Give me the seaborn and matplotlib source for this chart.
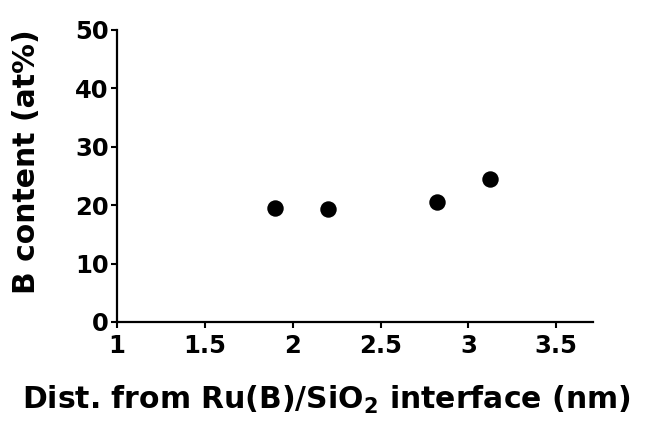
import matplotlib
matplotlib.use("Agg")
import matplotlib.pyplot as plt
import seaborn as sns
import pandas as pd

# Data
dist_nm = [1.90, 2.20, 2.82, 3.12]
b_content = [19.5, 19.3, 20.5, 24.5]
x_ticks = [1, 1.5, 2, 2.5, 3, 3.5]
x_tick_labels = ["1", "1.5", "2", "2.5", "3", "3.5"]
y_ticks = [0, 10, 20, 30, 40, 50]
y_tick_labels = ["0", "10", "20", "30", "40", "50"]

sns.set_theme(style="ticks")
plt.rcParams['font.family'] = ['DejaVu Sans']
plt.rcParams['font.weight'] = 'bold'
plt.rcParams['text.color'] = 'black'
plt.rcParams['axes.labelcolor'] = 'black'
plt.rcParams['xtick.color'] = 'black'
plt.rcParams['ytick.color'] = 'black'
plt.rcParams['mathtext.fontset'] = 'custom'
plt.rcParams['mathtext.rm'] = 'DejaVu Sans:bold'
plt.rcParams['mathtext.bf'] = 'DejaVu Sans:bold'
plt.rcParams['mathtext.it'] = 'DejaVu Sans:bold'

df = pd.DataFrame({"dist": dist_nm, "b": b_content})

fig = plt.figure(figsize=(6.54, 4.22), dpi=100)
ax = fig.add_axes([0.179, 0.237, 0.728, 0.692])
sns.scatterplot(data=df, x="dist", y="b", ax=ax, color="black", s=140,
                edgecolor="black", linewidth=0, zorder=3)

ax.set_xlim(1, 3.71)
ax.set_ylim(0, 50)
ax.set_xticks(x_ticks)
ax.set_xticklabels(x_tick_labels, fontsize=17.5, fontweight='bold')
ax.set_yticks(y_ticks)
ax.set_yticklabels(y_tick_labels, fontsize=17.5, fontweight='bold')
ax.tick_params(axis='both', direction='out', length=4, width=1.5,
               colors='black', pad=2)
ax.tick_params(axis='x', pad=5)

for side in ['top', 'right']:
    ax.spines[side].set_visible(False)
for side in ['left', 'bottom']:
    ax.spines[side].set_linewidth(1.6)
    ax.spines[side].set_color('black')

ax.set_xlabel(r"Dist. from Ru(B)/SiO$_{2}$ interface (nm)", fontsize=21.5,
              fontweight='bold', color='black')
ax.set_ylabel("B content (at%)", fontsize=21.5, fontweight='bold',
              color='black')
ax.xaxis.set_label_coords(0.439, -0.213)
ax.yaxis.set_label_coords(-0.159, 0.548)

fig.savefig("out.png", dpi=100)
